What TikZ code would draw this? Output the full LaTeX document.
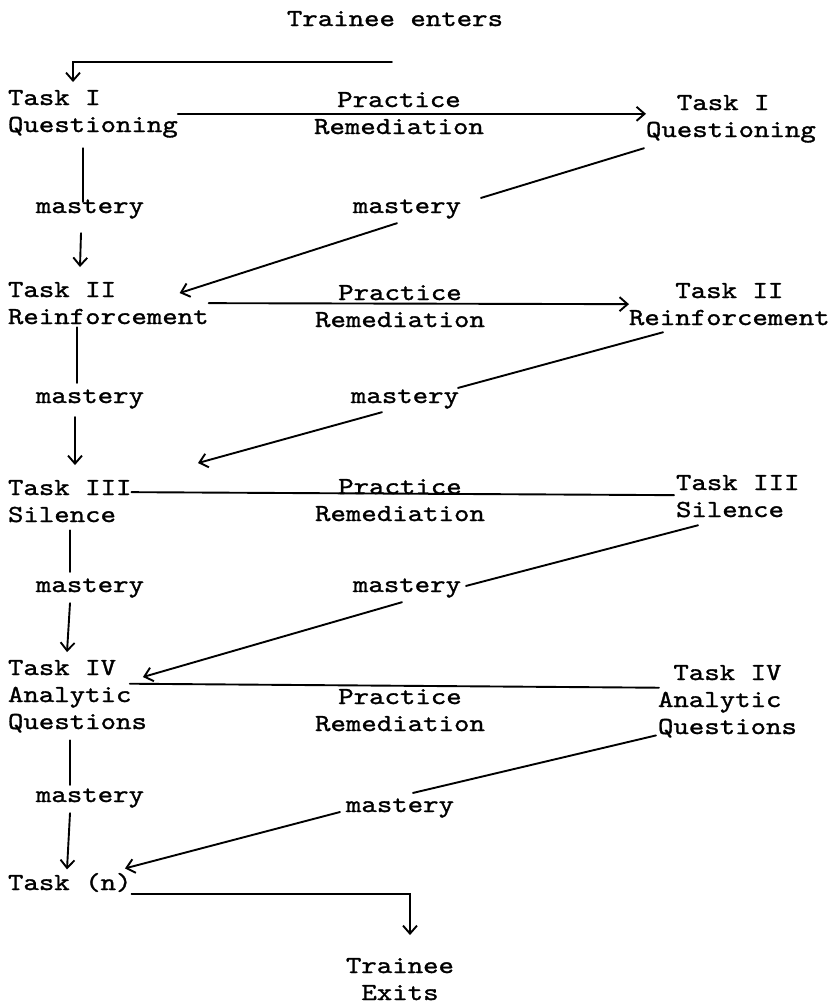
\documentclass[tikz,border=0pt]{standalone}
\usepackage{fontspec}
\newfontfamily\tw[FakeStretch=1.2,FakeBold=1.2]{lmmono10-regular.otf}
\usetikzlibrary{arrows.meta}
\begin{document}
\begin{tikzpicture}[x=1pt,y=-1pt,
  txt/.style={font=\tw\fontsize{24.5}{27}\selectfont, inner sep=0pt, outer sep=0pt},
  tl/.style={txt, align=left, anchor=base west},
  tc/.style={txt, align=center, anchor=base},
  ln/.style={line width=1.9pt, line cap=round},
  arr/.style={ln, -{Straight Barb[length=8pt,width=14pt]}}]
\useasboundingbox[fill=white] (0,0) rectangle (836,1005);
% texts (base = baseline of the last line)
\node[tc] (enters) at (395,26) {Trainee enters};
\node[tl] (L1) at (8,132) {Task I\\Questioning};
\node[tc] (P1) at (399,134) {Practice\\Remediation};
\node[tl] (R1) at (646,137) {\hphantom{xx}Task I\\Questioning};
\node[tc] (mL1) at (90,213) {mastery};
\node[tc] (mR1) at (407,213) {mastery};
\node[tl] (L2) at (8,324) {Task II\\Reinforcement};
\node[tc] (P2) at (400,327) {Practice\\Remediation};
\node[tl] (R2) at (629,325) {\hphantom{xxx}Task II\\Reinforcement};
\node[tc] (mL2) at (90,403) {mastery};
\node[tc] (mR2) at (405,403) {mastery};
\node[tl] (L3) at (8,522) {Task III\\Silence};
\node[tc] (P3) at (400,521) {Practice\\Remediation};
\node[tl] (R3) at (676,517) {Task III\\Silence};
\node[tc] (mL3) at (90,592) {mastery};
\node[tc] (mR3) at (407,592) {mastery};
\node[tl] (L4) at (8,729) {Task IV\\Analytic\\Questions};
\node[tc] (P4) at (400,731) {Practice\\Remediation};
\node[tl] (R4) at (658,734) {\hphantom{x}Task IV\\Analytic\\Questions};
\node[tc] (mL4) at (90,802) {mastery};
\node[tc] (mR4) at (400,812) {mastery};
\node[tl] (Ln) at (8,890) {Task (n)};
\node[tc] (exits) at (400,1000) {Trainee\\Exits};
% entry
\draw[arr] ([shift={(-3,36)}]enters.south) -| ([shift={(65,-8)}]L1.north west);
% row 1
\draw[arr] (L1.east) -- (L1.east -| R1.west);
\draw[ln] ([shift={(75,10.6)}]L1.south west) -- ([shift={(-7,2.5)}]mL1.north);
\draw[arr] ([shift={(-9,14.6)}]mL1.south) -- ([shift={(72,-15)}]L2.north west);
\draw[ln] ([shift={(-2,5.6)}]R1.south west) -- ([shift={(20,-1.5)}]mR1.north east);
\draw[arr] ([shift={(-10,4.6)}]mR1.south) -- ([shift={(-29,11)}]L2.north east);
% row 2
\draw[arr] (L2.east) -- (R2.west);
\draw[ln] ([shift={(69,3)}]L2.south west) -- ([shift={(-13,-6.5)}]mL2.north);
\draw[arr] ([shift={(-15,8.6)}]mL2.south) -- ([shift={(67,-15)}]L3.north west);
\draw[ln] ([shift={(34,7)}]R2.south west) -- ([shift={(-1,-1.5)}]mR2.north east);
\draw[arr] ([shift={(-23,3.6)}]mR2.south) -- ([shift={(66.5,-17)}]L3.north east);
% row 3
\draw[ln] ([shift={(0,-9)}]L3.east) -- ([shift={(-2,-1)}]R3.west);
\draw[ln] ([shift={(62,8)}]L3.south west) -- ([shift={(-20,-6.5)}]mL3.north);
\draw[arr] ([shift={(-20,5.6)}]mL3.south) -- ([shift={(59,-8)}]L4.north west);
\draw[ln] ([shift={(22,8)}]R3.south west) -- ([shift={(5,7.5)}]mR3.north east);
\draw[arr] ([shift={(-5,4.6)}]mR3.south) -- ([shift={(-4,17)}]L4.north east);
% row 4
\draw[ln] ([shift={(-17,-12.5)}]L4.east) -- ([shift={(1,-13.5)}]R4.west);
\draw[ln] ([shift={(62,8)}]L4.south west) -- ([shift={(-20,-3.5)}]mL4.north);
\draw[arr] ([shift={(-20,5.6)}]mL4.south) -- ([shift={(59,-3.6)}]Ln.north west);
\draw[ln] ([shift={(-2,-2)}]R4.south west) -- ([shift={(13,-5.5)}]mR4.north);
\draw[arr] ([shift={(-6,4)}]mR4.west) -- ([shift={(-6.5,-4.6)}]Ln.north east);
% exit
\draw[arr] ([shift={(0,2)}]Ln.south east) -| ([shift={(10,-23)}]exits.north);
\end{tikzpicture}
\end{document}
